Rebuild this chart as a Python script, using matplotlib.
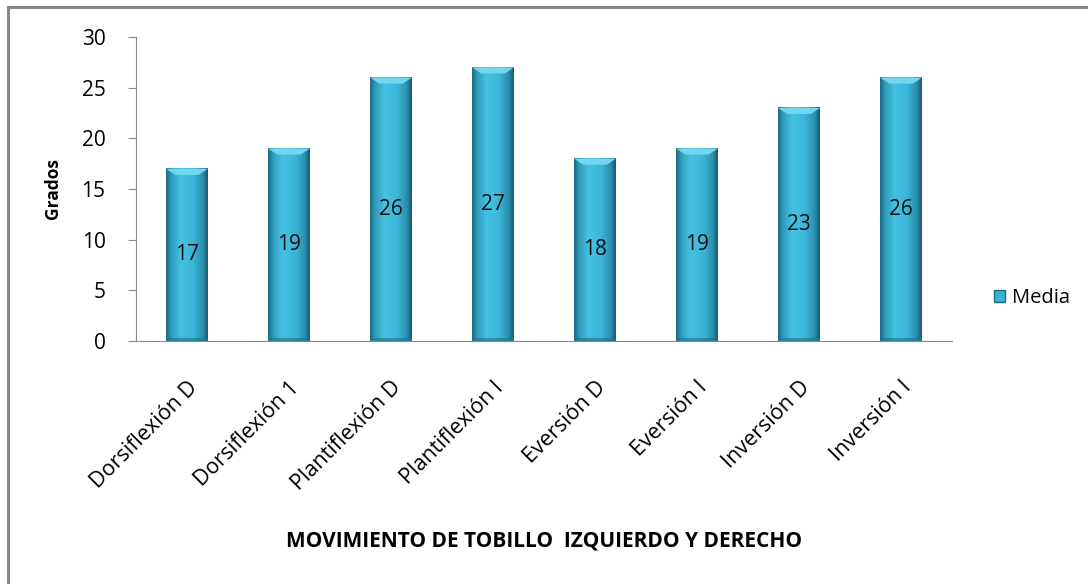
import numpy as np
import matplotlib
matplotlib.use("Agg")
import matplotlib.pyplot as plt
from matplotlib.patches import Polygon, Rectangle
from matplotlib.lines import Line2D
from matplotlib.colors import LinearSegmentedColormap

plt.rcParams['font.family'] = ['Open Sans', 'DejaVu Sans']

categorias = ["Dorsiflexión D", "Dorsiflexión 1", "Plantiflexión D", "Plantiflexión I",
              "Eversión D", "Eversión I", "Inversión D", "Inversión I"]
media = [17, 19, 26, 27, 18, 19, 23, 26]

fig = plt.figure(figsize=(10.88, 5.84), dpi=100)
ax = fig.add_axes([0.125, 0.416, 0.75, 0.5206])

x = np.arange(len(categorias))
bars = ax.bar(x, media, width=0.41, color="#37b2d3", zorder=2)

# horizontal gradient for the bars
cmap = LinearSegmentedColormap.from_list("barra", [
    (0.0, "#1d6a80"), (0.12, "#2f9dbd"), (0.35, "#44c2e2"),
    (0.65, "#3cb6d8"), (0.88, "#2a8fad"), (1.0, "#17596c")])
grad = np.linspace(0, 1, 200).reshape(1, -1)
for b in bars:
    x0, w, h = b.get_x(), b.get_width(), b.get_height()
    b.set_facecolor("none")
    ax.imshow(grad, cmap=cmap, aspect="auto", extent=(x0, x0 + w, 0, h),
              zorder=2, interpolation="bicubic")
    # light bevel on top
    d = 0.6
    ax.add_patch(Polygon([(x0, h), (x0 + w, h), (x0 + w - w * 0.22, h - d), (x0 + w * 0.22, h - d)],
                         closed=True, facecolor="#72d6ee", edgecolor="none", zorder=3))
    ax.add_patch(Rectangle((x0, 0), w, 0.35, facecolor="#1f7690", edgecolor="none", zorder=3, alpha=0.7))
    ax.text(x0 + w / 2, h / 2, str(int(h)), ha="center", va="center", fontsize=15, color="#111111", zorder=4)

ax.set_xlim(-0.5, len(categorias) - 0.5)
ax.set_ylim(0, 30)
ax.set_yticks(range(0, 31, 5))
ax.set_xticks(x)
ax.set_xticklabels(categorias, rotation=45, ha="right", rotation_mode="anchor", fontsize=15.5)
ax.tick_params(axis="x", length=0, pad=26)
ax.tick_params(axis="y", length=6, color="#888888", labelsize=15, pad=16)
for s in ["top", "right"]:
    ax.spines[s].set_visible(False)
for s in ["left", "bottom"]:
    ax.spines[s].set_color("#888888")
ax.set_ylabel("Grados", fontsize=12.5, fontweight="bold", labelpad=14)

fig.text(0.5, 0.073, "MOVIMIENTO DE TOBILLO  IZQUIERDO Y DERECHO", ha="center", va="center",
         fontsize=15, fontweight="bold")

handle = Rectangle((0, 0), 1, 1, facecolor="#37b2d3", edgecolor="#1d6a80")
fig.legend([handle], ["Media"], loc="center left", bbox_to_anchor=(0.897, 0.49), frameon=False,
           fontsize=14.5, handlelength=0.55, handleheight=0.55, handletextpad=0.35)

# chart area frame (left and top visible)
fig.add_artist(Line2D([0.0074, 0.0074], [0.0, 0.988], transform=fig.transFigure, color="#888888", lw=2.2))
fig.add_artist(Line2D([0.0074, 1.0], [0.988, 0.988], transform=fig.transFigure, color="#888888", lw=2.2))

fig.savefig("out.png", dpi=100)
